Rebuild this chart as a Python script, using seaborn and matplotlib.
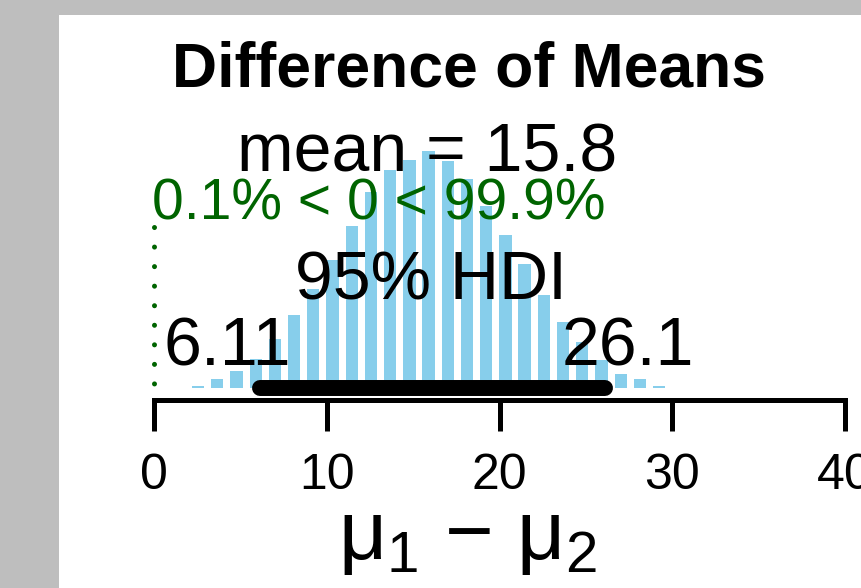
import numpy as np
import pandas as pd
import matplotlib
matplotlib.use("Agg")
import matplotlib.pyplot as plt
import seaborn as sns

# posterior histogram of mu1 - mu2 (density per bin)
bin_start = 1.994
bin_width = 1.112
density = [0.0005, 0.0028, 0.0057, 0.0100, 0.0170, 0.0253, 0.0341, 0.0442,
           0.0561, 0.0679, 0.0758, 0.0792, 0.0821, 0.0787, 0.0726, 0.0631,
           0.0532, 0.0428, 0.0322, 0.0227, 0.0157, 0.0094, 0.0048, 0.0030,
           0.0005]
mean_val = 15.8
hdi = [6.11, 26.1]
comp_val = 0
pct_below, pct_above = 0.1, 99.9
xticks = [0, 10, 20, 30, 40]

centers = np.round(bin_start + bin_width * (np.arange(len(density)) + 0.5), 3)
df = pd.DataFrame({"diff": centers, "dens": density})

sns.set_theme(style="white")
plt.rcParams["font.family"] = ["Liberation Sans", "DejaVu Sans"]
plt.rcParams["mathtext.fontset"] = "custom"
plt.rcParams["mathtext.rm"] = "Liberation Sans"
plt.rcParams["mathtext.it"] = "Liberation Sans"
plt.rcParams["text.color"] = "black"

W, H = 861, 588
fig = plt.figure(figsize=(W / 100, H / 100), dpi=100)
fig.patch.set_facecolor("#bebebe")
fig.patches.append(plt.Rectangle((59 / W, 0), 1 - 59 / W, (H - 15) / H,
                                 transform=fig.transFigure, facecolor="white",
                                 edgecolor="none", zorder=-5))

# axes placed so that x=0 sits at px 154 and x=40 at px 845
px_per_x = (845 - 154) / 40
x_left = (60 - 154) / px_per_x
x_right = (861 - 154) / px_per_x
y0_px = 387.5
px_per_y = 2875
ax = fig.add_axes([60 / W, (H - y0_px) / H, 801 / W, (y0_px - 15) / H])
ax.set_facecolor("none")

sns.barplot(data=df, x="diff", y="dens", native_scale=True, width=0.64,
            color="#87CEEB", saturation=1, linewidth=0, errorbar=None, ax=ax)

ax.set_xlim(x_left, x_right)
ax.set_ylim(0, (y0_px - 15) / px_per_y)

def ypx(p):
    return (y0_px - p) / px_per_y

# comparison value line and text
ax.plot([comp_val, comp_val], [ypx(226.7), 0], color="#006400", lw=3.6,
        linestyle=(0, (0.01, 3.9)), dash_capstyle="round", clip_on=False)
ax.text(comp_val - 0.1, ypx(219), f"{pct_below}% < {comp_val} < {pct_above}%",
        color="#006400", fontsize=41, ha="left", va="baseline")

ax.text(mean_val, ypx(171.7), f"mean = {mean_val}", fontsize=49,
        ha="center", va="baseline", color="black")

# HDI bar
ax.plot(hdi, [0, 0], color="black", lw=11.5, solid_capstyle="round",
        zorder=5, clip_on=False)
ax.text(np.mean(hdi) - 0.1, ypx(300), "95% HDI", fontsize=49, ha="center",
        va="baseline", color="black", zorder=6)
ax.text(hdi[0] - 1.86, ypx(365), f"{hdi[0]}", fontsize=49, ha="center",
        va="baseline", color="black", zorder=6)
ax.text(hdi[1] + 1.31, ypx(365), f"{hdi[1]}", fontsize=49, ha="center",
        va="baseline", color="black", zorder=6)

for s in ["top", "left", "right"]:
    ax.spines[s].set_visible(False)
ax.spines["bottom"].set_bounds(0, 40)
ax.spines["bottom"].set_position(("outward", 9))
ax.spines["bottom"].set_linewidth(3.6)
ax.spines["bottom"].set_color("black")
ax.set_yticks([])
ax.set_ylabel("")
ax.set_xticks(xticks)
ax.set_xticklabels([str(t) for t in xticks])
ax.tick_params(axis="x", length=22.5, width=3.6, pad=16, labelsize=36,
               bottom=True, colors="black")
ax.set_xlabel(r"μ$_1$ − μ$_2$", fontsize=60, color="black")
ax.xaxis.set_label_coords(0.508, -0.30)

fig.text(469 / W, 1 - 86 / H, "Difference of Means", fontsize=45,
         fontweight="bold", ha="center", va="baseline", color="black")

fig.savefig("out.png", dpi=100, facecolor=fig.get_facecolor())
